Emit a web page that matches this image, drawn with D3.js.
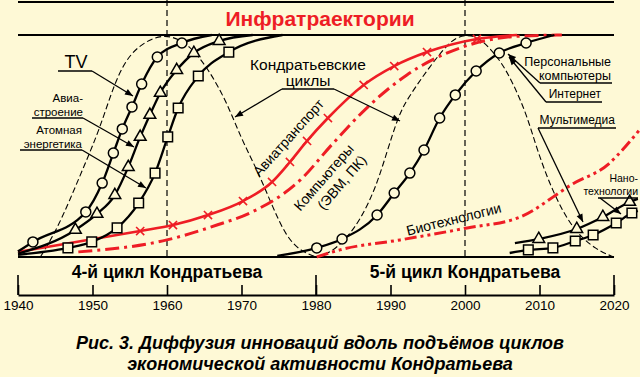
<!DOCTYPE html>
<html><head><meta charset="utf-8">
<script src="https://cdn.jsdelivr.net/npm/d3@7"></script>
<style>
html,body{margin:0;padding:0;background:#fef9d6;}
svg{display:block;font-family:"Liberation Sans",Arial,sans-serif;}
</style>
</head><body>
<svg id="c" width="640" height="377"></svg>
<script>
// ---------- data ----------
const tickYears = [1940,1950,1960,1970,1980,1990,2000,2010,2020];
const tickLabels = ["1940","1950","1960","1970","1980","1990","2000","2010","2020"];
const cycleBounds = [1940,1980,2020];
const cycleLabels = ["4-й цикл Кондратьева","5-й цикл Кондратьева"];
const cycleMarks = [1960,2000];
const titleText = "Инфратраектории";
const captionLines = ["Рис. 3. Диффузия инноваций вдоль подъёмов циклов","экономической активности Кондратьева"];

// Kondratiev waves (dashed bells): [year, level %]
const wave4 = [[1943,0],[1945,11],[1947,26],[1949,42],[1951,58],[1953,79],[1955,92],[1958,99],[1960.5,100],[1963,95.5],[1965.5,85],[1968,70],[1970,53],[1972,40],[1974,24],[1976,9],[1978,2.5],[1980,0]];
const wave5 = [[1980,0],[1982,2],[1984,8],[1986,17],[1988,31],[1989.5,47],[1991,63],[1992.2,71],[1995.3,86],[1998.4,99],[2000.3,100],[2002,99],[2004.7,89],[2006.5,78],[2008.3,64],[2009.7,48],[2011.8,29],[2014.5,12],[2017.7,3],[2020,0]];

// S-curves: [year, level %, marker?]
const tv = [[1940,2.5,0],[1942.0,6.8,1],[1949.1,20.3,1],[1951.3,33.3,1],[1952.8,46.8,1],[1954.0,57.7,1],[1955.3,67.6,1],[1956.6,77.9,1],[1958.7,90.1,1],[1962.0,96.4,1],[1966,100,0]];
const aircraftBuilding = [[1940,1.5,0],[1947.7,12.2,1],[1950.6,19.4,1],[1953.0,27.9,1],[1954.8,40.5,1],[1956.4,54.1,1],[1957.7,64.0,1],[1959.1,73.9,1],[1961.3,84.2,1],[1963.6,91.9,1],[1967.0,97.3,1],[1971.5,100,0]];
const nuclear = [[1940,1,0],[1946.7,4.1,1],[1949.9,6.8,1],[1953.3,13.1,1],[1956.2,24.3,1],[1958.4,37.8,1],[1960.1,54.1,1],[1961.5,67.1,1],[1964.2,81.5,1],[1968.3,92.3,1],[1975.5,100,0]];
const airTransport = [[1940,2.3,0],[1956.4,11.7,1],[1960.8,14.4,1],[1965.5,18.9,1],[1970.2,25.2,1],[1974.1,33.8,1],[1976.5,42.8,1],[1978.8,52.3,1],[1981.6,62.6,1],[1986.4,77.5,1],[1990.5,86.0,1],[1994.9,92.3,1],[2001.6,98.2,1],[2007,100,0]];
const computers = [[1948.1,2.3],[1960.0,7.7],[1966.7,14.4],[1971.1,19.8],[1977.9,34.7],[1982.1,50.5],[1986.8,67.1],[1992.2,82.0],[1999.7,94.6],[2007.4,99.5],[2013,100]];
const biotech = [[1980.1,0],[1983.2,3.2],[1991.3,7.7],[2000.3,13.1],[2007.4,18.0],[2014.5,33],[2019.3,42],[2021.6,50],[2023.6,58]];
const pcInternet = [[1974.8,0.5,0],[1980.1,4.1,1],[1983.5,8.1,1],[1988.2,18.9,1],[1990.5,28.8,1],[1992.6,37.8,1],[1994.5,48.2,1],[1996.6,62.6,1],[1998.7,73.0,1],[2001.5,83.8,1],[2004.6,91.9,1],[2008.2,96.4,1],[2012,100,0]];
const multimedia = [[2006.7,6.3,0],[2009.9,8.1,1],[2015.0,12.6,1],[2018.5,18.0,1],[2022.1,24.8,1],[2023.2,26.2,0]];
const nanotech = [[2006.0,1.8,0],[2008.5,3.2,1],[2011.8,4.1,1],[2014.8,7.2,1],[2017.2,9.9,1],[2020.3,15.3,1],[2022.4,19.8,1],[2023.2,20.8,0]];

// ---------- drawing ----------
const BG = "#fef9d6", RED = "#ee1d25";
const svg = d3.select("#c");
svg.append("rect").attr("width",640).attr("height",377).attr("fill",BG);
const x = d3.scaleLinear().domain([1940,2020]).range([18,614]);
const y = d3.scaleLinear().domain([0,100]).range([257,35]);

const defs = svg.append("defs");
defs.append("marker").attr("id","ah").attr("viewBox","0 0 10 10").attr("refX",10).attr("refY",5)
  .attr("markerWidth",10).attr("markerHeight",8).attr("markerUnits","userSpaceOnUse").attr("orient","auto")
  .append("path").attr("d","M0,1 L10,5 L0,9 Z").attr("fill","#000");

// frame lines
svg.append("line").attr("x1",x(1940)).attr("x2",x(2020)).attr("y1",2).attr("y2",2).attr("stroke","#000").attr("stroke-width",2);
svg.append("line").attr("x1",x(1940)).attr("x2",x(2020)).attr("y1",y(100)).attr("y2",y(100)).attr("stroke","#000").attr("stroke-width",2);
svg.append("line").attr("x1",x(1940)).attr("x2",x(2020)).attr("y1",y(0)).attr("y2",y(0)).attr("stroke","#000").attr("stroke-width",2);

// vertical dashed cycle peaks
svg.selectAll("line.vm").data(cycleMarks).enter().append("line").attr("class","vm")
  .attr("x1",d=>x(d)).attr("x2",d=>x(d)).attr("y1",0).attr("y2",y(0))
  .attr("stroke","#000").attr("stroke-width",1.2).attr("stroke-dasharray","6,4");

// title
svg.append("text").attr("x",320).attr("y",26).attr("text-anchor","middle")
  .attr("font-size",21).attr("font-weight","bold").attr("fill",RED).text(titleText);

// waves
const waveLine = d3.line().x(d=>x(d[0])).y(d=>y(d[1])).curve(d3.curveBasis);
[wave4,wave5].forEach(w=>{
  svg.append("path").attr("d",waveLine(w)).attr("fill","none").attr("stroke","#000")
    .attr("stroke-width",1.1).attr("stroke-dasharray","6,3");
});

const sLine = d3.line().x(d=>x(d[0])).y(d=>y(d[1])).curve(d3.curveMonotoneX);

// red curves
svg.append("path").attr("d",sLine(computers)).attr("fill","none").attr("stroke",RED)
  .attr("stroke-width",3).attr("stroke-dasharray","14,5,3,5");
svg.append("path").attr("d",sLine(biotech)).attr("fill","none").attr("stroke",RED)
  .attr("stroke-width",3).attr("stroke-dasharray","12,4,3,4,3,4");
svg.append("path").attr("d",sLine(airTransport)).attr("fill","none").attr("stroke",RED).attr("stroke-width",2.6);
svg.selectAll("path.cross").data(airTransport.filter(d=>d[2])).enter().append("path").attr("class","cross")
  .attr("d",d3.symbol(d3.symbolTimes,45)()).attr("transform",d=>`translate(${x(d[0])},${y(d[1])})`)
  .attr("fill","none").attr("stroke",RED).attr("stroke-width",1.6);

// black curves
function blackCurve(data, sym){
  svg.append("path").attr("d",sLine(data)).attr("fill","none").attr("stroke","#000").attr("stroke-width",2.3);
  const pts = data.filter(d=>d[2]);
  if(sym==="circle"){
    svg.selectAll(null).data(pts).enter().append("circle")
      .attr("cx",d=>x(d[0])).attr("cy",d=>y(d[1])).attr("r",5)
      .attr("fill",BG).attr("stroke","#000").attr("stroke-width",1.5);
  } else {
    const s = sym==="tri" ? d3.symbol(d3.symbolTriangle,60)() : d3.symbol(d3.symbolSquare,92)();
    svg.selectAll(null).data(pts).enter().append("path").attr("d",s)
      .attr("transform",d=>`translate(${x(d[0])},${y(d[1])})`)
      .attr("fill",BG).attr("stroke","#000").attr("stroke-width",1.5);
  }
}
blackCurve(nuclear,"sq");
blackCurve(aircraftBuilding,"tri");
blackCurve(tv,"circle");
blackCurve(pcInternet,"circle");
blackCurve(nanotech,"sq");
blackCurve(multimedia,"tri");

// ---------- annotations ----------
function txt(xp,yp,s,opt={}){
  const t = svg.append("text").attr("x",xp).attr("y",yp).attr("font-size",opt.size||12)
    .attr("text-anchor",opt.anchor||"start").attr("fill",opt.fill||"#000").text(s);
  if(opt.weight) t.attr("font-weight",opt.weight);
  if(opt.style) t.attr("font-style",opt.style);
  return t;
}
function seg(x1,y1,x2,y2,arrow){
  const l = svg.append("line").attr("x1",x1).attr("y1",y1).attr("x2",x2).attr("y2",y2)
    .attr("stroke","#000").attr("stroke-width",1.3);
  if(arrow) l.attr("marker-end","url(#ah)");
}
// TV
txt(76,68,"TV",{size:18,anchor:"middle"});
seg(58,71,92,71); seg(92,71,133,96,true);
// Авиастроение
txt(83,102,"Авиа-",{anchor:"end",size:11.5});
txt(83,116,"строение",{anchor:"end",size:11.5});
seg(32,118,83,118); seg(83,118,134,147,true);
// Атомная энергетика
txt(82,134,"Атомная",{anchor:"end",size:11.5});
txt(82,148,"энергетика",{anchor:"end",size:11.5});
seg(20,150,82,150); seg(82,150,146,188,true);
// Кондратьевские циклы
txt(308,70,"Кондратьевские",{size:15.5,anchor:"middle"});
txt(308,86,"циклы",{size:15.5,anchor:"middle"});
seg(282,89,334,89); seg(282,89,235,117,true); seg(334,89,400,121,true);
// rotated labels
svg.append("text").attr("transform","translate(292,141) rotate(-48)").attr("text-anchor","middle")
  .attr("font-size",14).text("Авиатранспорт");
const g2 = svg.append("g").attr("transform","translate(331,181) rotate(-49)");
g2.append("text").attr("x",-2).attr("y",-3).attr("text-anchor","middle").attr("font-size",14).text("Компьютеры");
g2.append("text").attr("x",6).attr("y",14).attr("text-anchor","middle").attr("font-size",14).text("(ЭВМ, ПК)");
svg.append("text").attr("transform","translate(455,224) rotate(-14)").attr("text-anchor","middle")
  .attr("font-size",14).text("Биотехнологии");
// right-side labels
txt(611,66,"Персональные",{anchor:"end",size:12.5});
txt(611,80,"компьютеры",{anchor:"end",size:12.5});
seg(540,83,612,83); seg(540,83,508,54,true);
txt(601,98,"Интернет",{anchor:"end"});
seg(546,102,602,102); seg(546,102,509,57,true);
txt(615,124,"Мультимедиа",{anchor:"end"});
seg(538,128,616,128); seg(538,128,583,222,true);
txt(638,182,"Нано-",{anchor:"end",size:10.5});
txt(638,195,"технологии",{anchor:"end",size:10.5});
seg(598,198,638,198); seg(600,198,621,214,true);

// ---------- bottom axis ----------
const AX = 295;
const axT = svg.append("g").attr("transform",`translate(0,${AX})`)
  .call(d3.axisTop(x).tickValues(tickYears).tickSize(10).tickSizeOuter(0).tickFormat(""));
axT.select(".domain").attr("stroke-width",2);
axT.selectAll(".tick line").attr("stroke-width",1.6);
svg.selectAll("line.maj").data(cycleBounds).enter().append("line").attr("class","maj")
  .attr("x1",d=>x(d)).attr("x2",d=>x(d)).attr("y1",AX).attr("y2",AX-20)
  .attr("stroke","#000").attr("stroke-width",1.6);
const axB = svg.append("g").attr("transform",`translate(0,${AX})`)
  .call(d3.axisBottom(x).tickValues(tickYears).tickSize(0).tickPadding(5).tickFormat((d,i)=>tickLabels[i]));
axB.select(".domain").remove();
axB.selectAll("text").attr("font-size",13.5).attr("font-family","Liberation Sans, Arial, sans-serif").attr("fill","#000");

cycleLabels.forEach((s,i)=>{
  txt(x((cycleBounds[i]+cycleBounds[i+1])/2),278,s,{size:17.5,weight:"bold",anchor:"middle"});
});

// caption
captionLines.forEach((s,i)=>{
  txt(320,349+i*21,s,{size:18,weight:"bold",style:"italic",anchor:"middle"});
});
</script>
</body></html>
